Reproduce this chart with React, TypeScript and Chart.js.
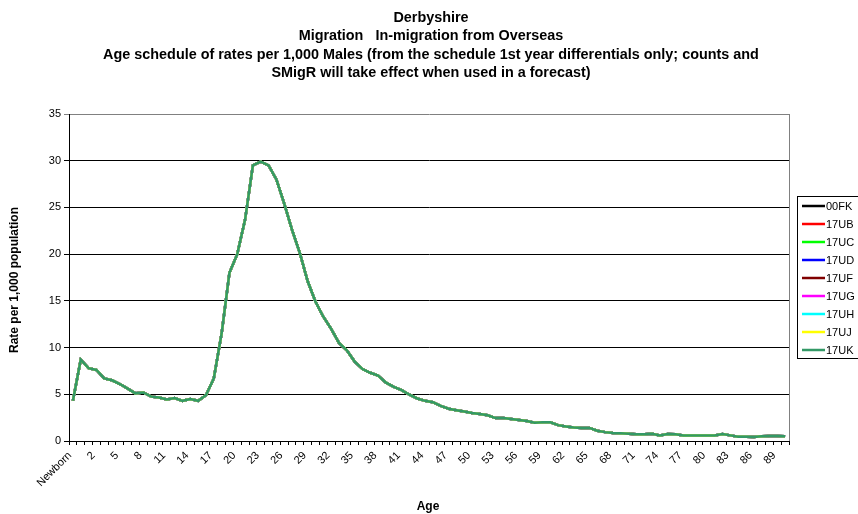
import React, { useEffect, useRef } from 'react';
import { Chart, registerables } from 'chart.js';

Chart.register(...registerables);

const titleLines = [
  'Derbyshire',
  'Migration   In-migration from Overseas',
  'Age schedule of rates per 1,000 Males (from the schedule 1st year differentials only; counts and',
  'SMigR will take effect when used in a forecast)',
];

const xAxisTitle = 'Age';
const yAxisTitle = 'Rate per 1,000 population';

const ageLabels = [
  'Newborn', '0', '1', '2', '3', '4', '5', '6', '7', '8', '9',
  '10', '11', '12', '13', '14', '15', '16', '17', '18', '19',
  '20', '21', '22', '23', '24', '25', '26', '27', '28', '29',
  '30', '31', '32', '33', '34', '35', '36', '37', '38', '39',
  '40', '41', '42', '43', '44', '45', '46', '47', '48', '49',
  '50', '51', '52', '53', '54', '55', '56', '57', '58', '59',
  '60', '61', '62', '63', '64', '65', '66', '67', '68', '69',
  '70', '71', '72', '73', '74', '75', '76', '77', '78', '79',
  '80', '81', '82', '83', '84', '85', '86', '87', '88', '89', '90',
];

// Rate per 1,000 males, one value per age category (Newborn, 0 .. 90)
const rates = [
  4.3, 8.7, 7.8, 7.6, 6.7, 6.5, 6.1, 5.6, 5.1, 5.2,
  4.75, 4.65, 4.45, 4.6, 4.3, 4.5, 4.3, 4.9, 6.7, 11.5,
  18.0, 20.0, 23.7, 29.5, 29.9, 29.5, 28.0, 25.4, 22.6, 20.1,
  17.1, 14.9, 13.3, 12.0, 10.5, 9.7, 8.5, 7.7, 7.3, 7.0,
  6.25, 5.8, 5.45, 4.95, 4.55, 4.3, 4.15, 3.75, 3.45, 3.3,
  3.15, 3.0, 2.9, 2.75, 2.45, 2.45, 2.35, 2.25, 2.15, 1.95,
  2.0, 2.0, 1.7, 1.55, 1.45, 1.4, 1.4, 1.1, 0.95, 0.85,
  0.82, 0.78, 0.72, 0.72, 0.78, 0.6, 0.75, 0.72, 0.58, 0.58,
  0.58, 0.58, 0.6, 0.75, 0.6, 0.46, 0.46, 0.43, 0.5, 0.53,
  0.53, 0.5,
];

// Every district carries the same schedule, so the lines coincide
const seriesNames = ['00FK', '17UB', '17UC', '17UD', '17UF', '17UG', '17UH', '17UJ', '17UK'];
const seriesColors = ['#000000', '#FF0000', '#00FF00', '#0000FF', '#800000', '#FF00FF', '#00FFFF', '#FFFF00', '#339966'];

const yMin = 0;
const yMax = 35;
const yStep = 5;
const labelEvery = 3;

const FONT = "'Liberation Sans', Arial, sans-serif";

const decorations = {
  id: 'decorations',
  beforeDatasetsDraw(chart: any) {
    const { ctx, chartArea } = chart;
    ctx.save();
    ctx.strokeStyle = '#808080';
    ctx.lineWidth = 1;
    ctx.beginPath();
    ctx.moveTo(Math.round(chartArea.right) + 0.5, chartArea.top);
    ctx.lineTo(Math.round(chartArea.right) + 0.5, chartArea.bottom);
    ctx.stroke();
    ctx.restore();
  },
  afterDraw(chart: any) {
    const { ctx } = chart;
    ctx.save();
    ctx.fillStyle = '#000';
    ctx.textAlign = 'center';
    ctx.textBaseline = 'middle';
    ctx.font = `bold 14.4px ${FONT}`;
    titleLines.forEach((line, i) => {
      ctx.fillText(line, 431, 18 + i * 18.3);
    });

    ctx.font = `bold 12px ${FONT}`;
    ctx.fillText(xAxisTitle, 428, 507);

    ctx.save();
    ctx.translate(15, 280);
    ctx.rotate(-Math.PI / 2);
    ctx.fillText(yAxisTitle, 0, 0);
    ctx.restore();

    // legend box
    const lx = 797.5;
    const ly = 196.5;
    ctx.fillStyle = '#fff';
    ctx.fillRect(lx, ly, 70, 162);
    ctx.strokeStyle = '#000';
    ctx.lineWidth = 1;
    ctx.strokeRect(lx, ly, 70, 162);
    ctx.font = `11px ${FONT}`;
    ctx.textAlign = 'left';
    chart.data.datasets.forEach((ds: any, i: number) => {
      const y = 206 + i * 18;
      ctx.strokeStyle = ds.borderColor;
      ctx.lineWidth = 2.5;
      ctx.beginPath();
      ctx.moveTo(802, y);
      ctx.lineTo(825, y);
      ctx.stroke();
      ctx.fillStyle = '#000';
      ctx.fillText(ds.label, 826, y + 0.5);
    });
    ctx.restore();
  },
};

export default function App() {
  const canvasRef = useRef<HTMLCanvasElement | null>(null);

  useEffect(() => {
    const canvas = canvasRef.current;
    if (!canvas) return;
    const chart = new Chart(canvas, {
      type: 'line',
      data: {
        labels: ageLabels,
        datasets: seriesNames.map((name, i) => ({
          label: name,
          data: rates,
          borderColor: seriesColors[i],
          backgroundColor: seriesColors[i],
          borderWidth: 2.5,
          pointRadius: 0,
          tension: 0,
          fill: false,
          // later series are painted over earlier ones
          order: seriesNames.length - i,
        })),
      },
      options: {
        animation: false,
        responsive: false,
        devicePixelRatio: 1,
        layout: { padding: { left: 0, right: 69, top: 114, bottom: 0 } },
        plugins: {
          legend: { display: false },
          title: { display: false },
          tooltip: { enabled: false },
        },
        scales: {
          x: {
            type: 'category',
            offset: true,
            grid: {
              display: true,
              drawOnChartArea: false,
              drawTicks: true,
              tickLength: 4,
              color: '#000',
              offset: true,
            },
            border: { color: '#000', width: 1 },
            ticks: {
              autoSkip: false,
              maxRotation: 45,
              minRotation: 45,
              padding: 4,
              labelOffset: -3,
              color: '#000',
              font: { family: FONT, size: 11 },
              callback: (_v: any, i: number) => (i % labelEvery === 0 ? ageLabels[i] : ''),
            },
            afterFit: (s: any) => {
              s.height = 73;
            },
          },
          y: {
            min: yMin,
            max: yMax,
            ticks: {
              stepSize: yStep,
              color: '#000',
              padding: 3,
              font: { family: FONT, size: 11 },
            },
            grid: {
              color: (c: any) => (c.tick && c.tick.value === yMax ? '#808080' : '#000'),
              tickLength: 5,
              lineWidth: 1,
            },
            border: { color: '#000', width: 1 },
            afterFit: (s: any) => {
              s.width = 69;
            },
          },
        },
      },
      plugins: [decorations],
    });
    return () => chart.destroy();
  }, []);

  return (
    <div style={{ position: 'absolute', left: 0, top: 0, width: 858, height: 514, background: '#fff' }}>
      <canvas ref={canvasRef} width={858} height={514} />
    </div>
  );
}
